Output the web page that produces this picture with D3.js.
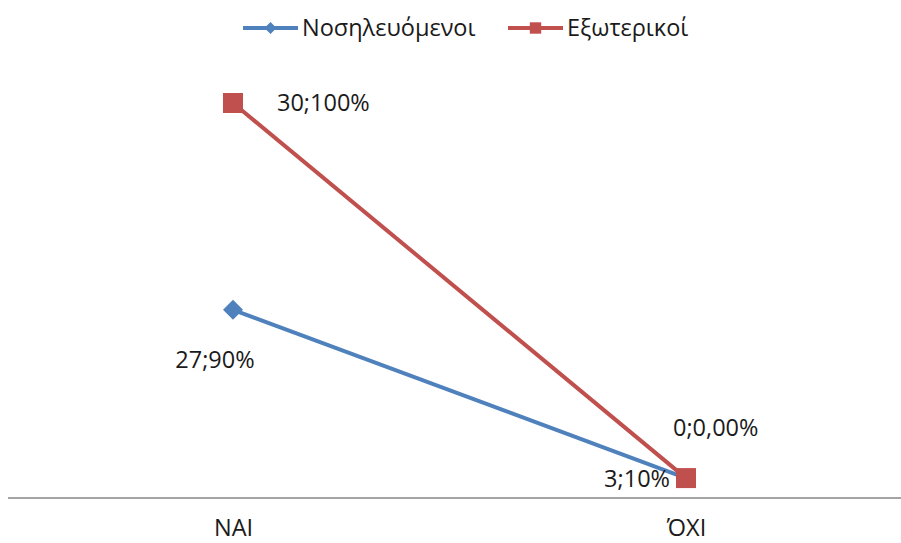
<!DOCTYPE html>
<html>
<head>
<meta charset="utf-8">
<script src="https://cdn.jsdelivr.net/npm/d3@7"></script>
<style>
  body { margin: 0; background: #fff; }
  svg { display: block; font-family: "Open Sans", "Liberation Sans", Arial, sans-serif; }
</style>
</head>
<body>
<svg id="chart" width="901" height="543"></svg>
<script>
// categories and series
var categories = ["ΝΑΙ", "ΌΧΙ"];
var seriesNames = ["Νοσηλευόμενοι", "Εξωτερικοί"];
// plotted heights (hidden value axis, 0..100)
var inpatientValues = [47.5, 4.8];
var outpatientValues = [100, 4.8];
// data labels as shown
var inpatientLabels = ["27;90%", "3;10%"];
var outpatientLabels = ["30;100%", "0;0,00%"];

var colors = ["#4F81BD", "#C0504D"];

var svg = d3.select("#chart");
var fontSize = 23.5;

// scales
var x = d3.scalePoint()
    .domain(categories)
    .range([233, 686]);

var y = d3.scaleLinear()
    .domain([0, 100])
    .range([497, 103]);

// category axis
var xAxis = d3.axisBottom(x).tickSize(0).tickPadding(21);
var ax = svg.append("g")
    .attr("transform", "translate(0,498)")
    .call(xAxis);
ax.select(".domain")
    .attr("d", "M8,0H901")
    .attr("stroke", "#868686")
    .attr("stroke-width", 1.5);
ax.selectAll("text")
    .attr("font-size", fontSize)
    .attr("font-family", "Open Sans, sans-serif")
    .attr("fill", "#1a1a1a");

var series = [
    { name: seriesNames[0], values: inpatientValues, labels: inpatientLabels, color: colors[0], shape: "diamond" },
    { name: seriesNames[1], values: outpatientValues, labels: outpatientLabels, color: colors[1], shape: "square" }
];

var line = d3.line()
    .x((d, i) => x(categories[i]))
    .y(d => y(d));

function marker(shape, big) {
    if (shape == "diamond") {
        return d3.symbol(d3.symbolSquare, big ? 200 : 72)();
    }
    return d3.symbol(d3.symbolSquare, big ? 400 : 130)();
}

series.forEach(s => {
    svg.append("path")
        .attr("d", line(s.values))
        .attr("fill", "none")
        .attr("stroke", s.color)
        .attr("stroke-width", 4);
});

series.forEach(s => {
    svg.append("g")
        .selectAll("path")
        .data(s.values)
        .join("path")
            .attr("d", marker(s.shape, true))
            .attr("fill", s.color)
            .attr("transform", (d, i) => `translate(${x(categories[i])},${y(d)})` + (s.shape == "diamond" ? " rotate(45)" : ""));
});

// data label offsets from their points
var labelLayout = [
    [{ dx: -18, dy: 58, anchor: "middle" }, { dx: -16, dy: 9, anchor: "end" }],
    [{ dx: 44, dy: 8, anchor: "start" }, { dx: -13, dy: -42, anchor: "start" }]
];

series.forEach((s, si) => {
    svg.append("g")
        .selectAll("text")
        .data(s.values)
        .join("text")
            .attr("x", (d, i) => x(categories[i]) + labelLayout[si][i].dx)
            .attr("y", (d, i) => y(d) + labelLayout[si][i].dy)
            .attr("text-anchor", (d, i) => labelLayout[si][i].anchor)
            .attr("font-size", fontSize)
            .attr("fill", "#1a1a1a")
            .text((d, i) => s.labels[i]);
});

// legend
var legendX = [243, 508];
var legend = svg.append("g");
series.forEach((s, i) => {
    var g = legend.append("g")
        .attr("transform", `translate(${legendX[i]}, 28)`);
    g.append("line")
        .attr("x1", 0).attr("x2", 55)
        .attr("stroke", s.color)
        .attr("stroke-width", 4);
    g.append("path")
        .attr("d", marker(s.shape, false))
        .attr("fill", s.color)
        .attr("transform", "translate(27.5,0)" + (s.shape == "diamond" ? " rotate(45)" : ""));
    g.append("text")
        .attr("x", 59)
        .attr("y", 8)
        .attr("font-size", fontSize)
        .attr("fill", "#1a1a1a")
        .text(s.name);
});
</script>
</body>
</html>
